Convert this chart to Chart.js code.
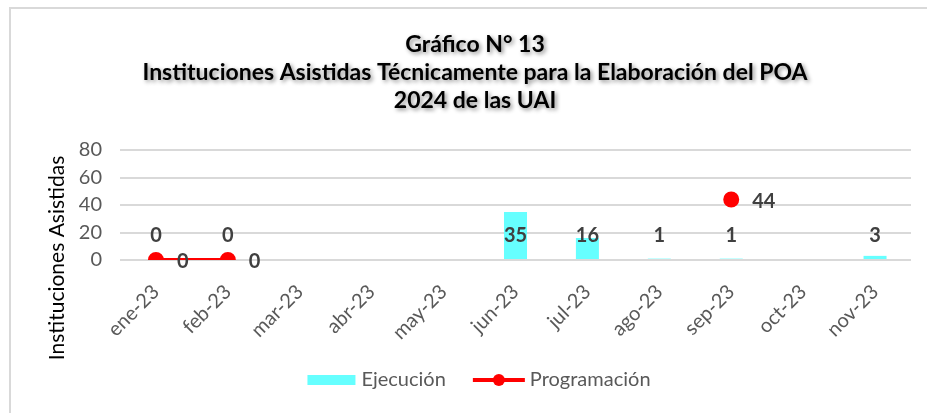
<!DOCTYPE html>
<html>
<head>
<meta charset="utf-8">
<script src="https://cdn.jsdelivr.net/npm/chart.js@4/dist/chart.umd.min.js"></script>
<style>
  html, body { margin: 0; padding: 0; background: #fff; }
  canvas { display: block; }
</style>
</head>
<body>
<canvas id="chart" width="927" height="413"></canvas>
<script>
const categories = ["ene-23", "feb-23", "mar-23", "abr-23", "may-23", "jun-23", "jul-23", "ago-23", "sep-23", "oct-23", "nov-23"];
const ejecucion = [0, 0, null, null, null, 35, 16, 1, 1, null, 3];
const programacion = [0, 0, null, null, null, null, null, null, 44, null, null];
const yTicks = [0, 20, 40, 60, 80];
const titleLines = [
  "Gráfico N° 13",
  "Instituciones Asistidas Técnicamente para la Elaboración del POA",
  "2024 de las UAI",
];
const yTitle = "Instituciones Asistidas";

const FONT = "Lato, 'Open Sans', sans-serif";
const CYAN = "#66FFFF";
const RED = "#FF0000";
const GREY = "#595959";

// titles, border, labels and legend drawn by hand
const decor = {
  id: "decor",
  beforeDraw(chart) {
    const ctx = chart.ctx;
    ctx.save();
    ctx.fillStyle = "#fff";
    ctx.fillRect(0, 0, chart.width, chart.height);
    ctx.strokeStyle = "#d9d9d9";
    ctx.lineWidth = 2;
    ctx.beginPath();
    ctx.moveTo(10, chart.height);
    ctx.lineTo(10, 8);
    ctx.lineTo(chart.width, 8);
    ctx.stroke();
    ctx.restore();
  },
  afterDatasetsDraw(chart) {
    const ctx = chart.ctx;
    const y = chart.scales.y;
    ctx.save();
    ctx.font = "bold 20px " + FONT;
    ctx.fillStyle = "#404040";
    ctx.textBaseline = "middle";
    // bar labels sit at a fixed height above the base
    ctx.textAlign = "center";
    chart.getDatasetMeta(0).data.forEach((bar, i) => {
      if (ejecucion[i] === null) return;
      ctx.fillText(String(ejecucion[i]), bar.x, y.getPixelForValue(0) - 24);
    });
    ctx.textAlign = "left";
    chart.getDatasetMeta(1).data.forEach((pt, i) => {
      if (programacion[i] === null) return;
      ctx.fillText(String(programacion[i]), pt.x + 21, pt.y + 2);
    });
    ctx.restore();
  },
  afterDraw(chart) {
    const ctx = chart.ctx;
    ctx.save();
    // title with soft shadow
    ctx.font = "bold 23px " + FONT;
    ctx.fillStyle = "#000";
    ctx.textAlign = "center";
    ctx.textBaseline = "middle";
    ctx.shadowColor = "rgba(0,0,0,0.45)";
    ctx.shadowBlur = 4;
    ctx.shadowOffsetX = 2;
    ctx.shadowOffsetY = 2;
    titleLines.forEach((t, i) => ctx.fillText(t, 475, 45 + i * 28));
    ctx.restore();

    // y axis title
    ctx.save();
    ctx.font = "21px " + FONT;
    ctx.fillStyle = "#000";
    ctx.textAlign = "center";
    ctx.textBaseline = "middle";
    ctx.translate(57, 258);
    ctx.rotate(-Math.PI / 2);
    ctx.fillText(yTitle, 0, 0);
    ctx.restore();

    // legend
    ctx.save();
    ctx.font = "20px " + FONT;
    ctx.fillStyle = GREY;
    ctx.textBaseline = "middle";
    ctx.textAlign = "left";
    const ly = 380;
    const names = chart.data.datasets.map((d) => d.label);
    const w0 = ctx.measureText(names[0]).width;
    const w1 = ctx.measureText(names[1]).width;
    const total = 48 + 6 + w0 + 27 + 52 + 5 + w1;
    let x = 479 - total / 2;
    ctx.fillStyle = CYAN;
    ctx.fillRect(x, ly - 5, 48, 10);
    x += 54;
    ctx.fillStyle = GREY;
    ctx.fillText(names[0], x, ly);
    x += w0 + 27;
    ctx.strokeStyle = RED;
    ctx.lineWidth = 4;
    ctx.beginPath();
    ctx.moveTo(x, ly);
    ctx.lineTo(x + 52, ly);
    ctx.stroke();
    ctx.fillStyle = RED;
    ctx.beginPath();
    ctx.arc(x + 26, ly, 6, 0, Math.PI * 2);
    ctx.fill();
    x += 57;
    ctx.fillStyle = GREY;
    ctx.fillText(names[1], x, ly);
    ctx.restore();
  },
};

const ctx = document.getElementById("chart");
new Chart(ctx, {
  type: "bar",
  data: {
    labels: categories,
    datasets: [
      {
        type: "bar",
        label: "Ejecución",
        data: ejecucion,
        backgroundColor: CYAN,
        categoryPercentage: 1,
        barPercentage: 0.32,
        order: 1,
      },
      {
        type: "line",
        label: "Programación",
        data: programacion,
        borderColor: RED,
        backgroundColor: RED,
        borderWidth: 4,
        pointRadius: 6,
        pointHoverRadius: 6,
        spanGaps: false,
        order: 0,
      },
    ],
  },
  options: {
    responsive: false,
    animation: false,
    devicePixelRatio: 1,
    layout: { padding: { top: 150, right: 16, left: 0, bottom: 0 } },
    plugins: {
      legend: { display: false },
      title: { display: false },
      tooltip: { enabled: false },
    },
    scales: {
      x: {
        grid: { display: false },
        border: { display: false },
        ticks: {
          autoSkip: false,
          minRotation: 45,
          maxRotation: 45,
          color: GREY,
          font: { family: FONT, size: 20 },
          padding: 12,
        },
        afterFit(scale) {
          scale.height = 153;
        },
      },
      y: {
        min: yTicks[0],
        max: yTicks[yTicks.length - 1],
        afterBuildTicks(scale) {
          scale.ticks = yTicks.map((v) => ({ value: v }));
        },
        grid: { color: "#d9d9d9", lineWidth: 2, drawTicks: false },
        border: { display: false },
        ticks: {
          color: GREY,
          font: { family: FONT, size: 20 },
          padding: 18,
        },
        afterFit(scale) {
          scale.width = 120;
        },
      },
    },
  },
  plugins: [decor],
});
</script>
</body>
</html>
